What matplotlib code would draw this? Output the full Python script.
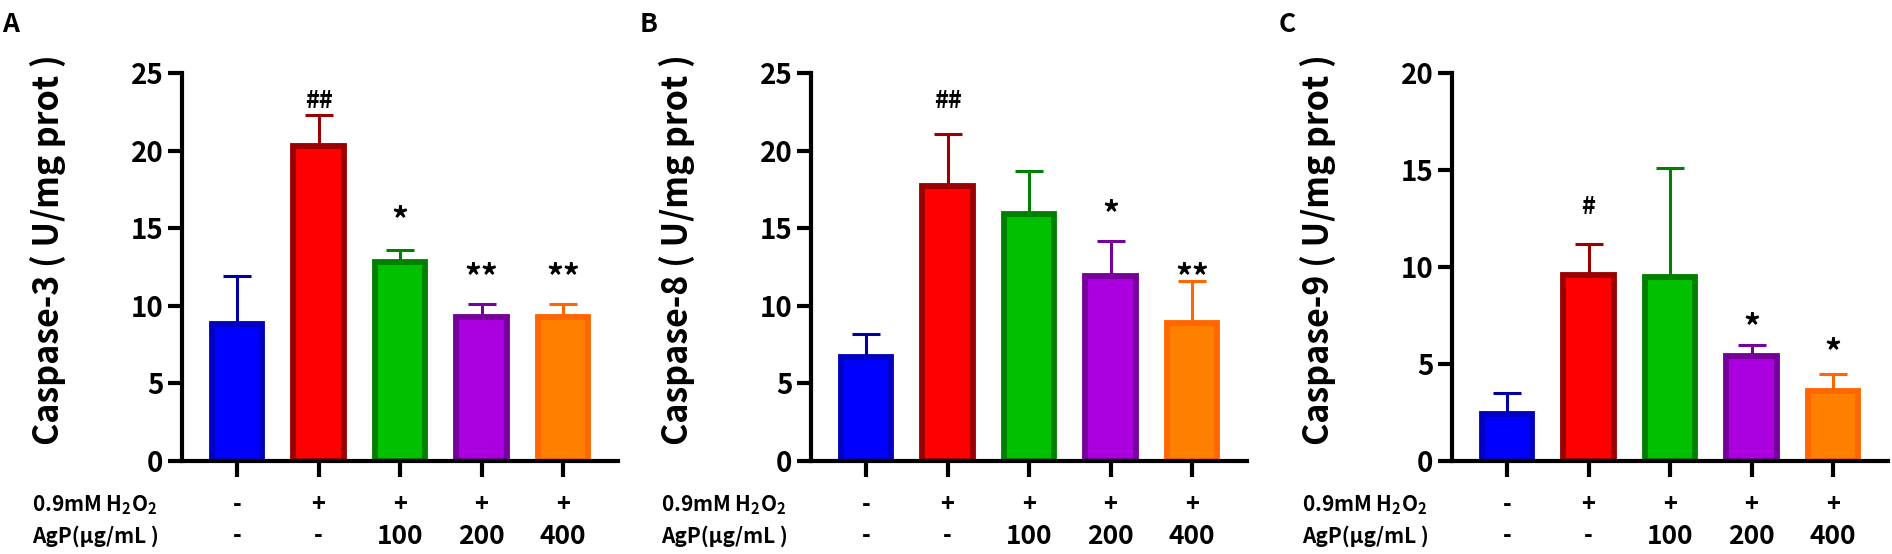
import matplotlib
matplotlib.use("Agg")
import matplotlib.pyplot as plt
from matplotlib.transforms import blended_transform_factory

plt.rcParams["font.family"] = ["Noto Sans CJK SC", "DejaVu Sans"]
plt.rcParams["font.weight"] = "bold"
plt.rcParams["mathtext.fontset"] = "custom"
plt.rcParams["mathtext.rm"] = "Noto Sans CJK SC:bold"
plt.rcParams["mathtext.bf"] = "Noto Sans CJK SC:bold"
plt.rcParams["mathtext.default"] = "rm"

# groups
h2o2_row = ["-", "+", "+", "+", "+"]
agp_row = ["-", "-", "100", "200", "400"]

# caspase activity, mean and upper SD
casp3_mean = [8.8, 20.3, 12.8, 9.3, 9.3]
casp3_err = [3.1, 2.0, 0.8, 0.8, 0.8]
casp8_mean = [6.7, 17.7, 15.9, 11.9, 8.9]
casp8_err = [1.5, 3.4, 2.8, 2.3, 2.7]
casp9_mean = [2.4, 9.6, 9.5, 5.4, 3.6]
casp9_err = [1.1, 1.6, 5.6, 0.6, 0.9]

casp3_marks = ["", "##", "*", "**", "**"]
casp8_marks = ["", "##", "", "*", "**"]
casp9_marks = ["", "#", "", "*", "*"]
casp3_mark_y = [0, 23.2, 16.4, 12.7, 12.7]
casp8_mark_y = [0, 23.2, 0, 16.8, 12.7]
casp9_mark_y = [0, 13.1, 0, 7.6, 6.3]

fill_colors = ["#0000FF", "#FF0000", "#00C000", "#AA00E0", "#FF8000"]
edge_colors = ["#0000C0", "#990000", "#007F00", "#75009A", "#FF6600"]
err_colors = ["#0000A0", "#990000", "#008000", "#75009A", "#FF6600"]

W, H = 1892, 554
fig = plt.figure(figsize=(W / 100, H / 100), dpi=100)

unit = 81.5
x0, x1 = -0.68, 4.68
ax_w = (x1 - x0) * unit / W
ax_bottom = 1 - 461 / H
ax_h = (461 - 73) / H

panels = [
    ("A", 181.6, casp3_mean, casp3_err, casp3_marks, casp3_mark_y, 25, "Caspase-3 ( U/mg prot )"),
    ("B", 810.6, casp8_mean, casp8_err, casp8_marks, casp8_mark_y, 25, "Caspase-8 ( U/mg prot )"),
    ("C", 1451.6, casp9_mean, casp9_err, casp9_marks, casp9_mark_y, 20, "Caspase-9 ( U/mg prot )"),
]
letter_x = [2, 640, 1279]

for i, (letter, left, mean, err, marks, mark_y, ymax, ylabel) in enumerate(panels):
    ax = fig.add_axes([left / W, ax_bottom, ax_w, ax_h])
    xs = list(range(len(mean)))
    ax.bar(xs, mean, width=0.62, color=fill_colors, edgecolor=edge_colors,
           linewidth=4.2, zorder=2)
    for x, m, e, c in zip(xs, mean, err, err_colors):
        ax.errorbar(x, m, yerr=[[0], [e]], fmt="none", ecolor=c, elinewidth=2.2,
                    capsize=10, capthick=2.2, zorder=1)
    for x, t, y in zip(xs, marks, mark_y):
        if t:
            star = t.startswith("*")
            shift = (0.9 if ymax == 25 else 0.7) if star else 0
            ax.text(x, y - shift, t, ha="center", va="center",
                    fontsize=24 if star else 17)

    ax.set_xlim(x0, x1)
    ax.set_ylim(0, ymax)
    ax.set_yticks(range(0, ymax + 1, 5))
    ax.set_xticks(xs)
    ax.set_xticklabels([])
    for s in ["top", "right"]:
        ax.spines[s].set_visible(False)
    for s in ["left", "bottom"]:
        ax.spines[s].set_linewidth(3)
    ax.tick_params(axis="y", length=10, width=3, pad=3, labelsize=20)
    ax.tick_params(axis="x", length=11.5, width=3)

    # row labels under the bars
    tr = blended_transform_factory(ax.transData, fig.transFigure)
    for x, a, b in zip(xs, h2o2_row, agp_row):
        ax.text(x, 1 - 505 / H, a, transform=tr, ha="center", va="center",
                fontsize=17)
        fs = 19 if b != "-" else 17
        ax.text(x, 1 - 536 / H, b, transform=tr, ha="center", va="center",
                fontsize=fs)
    fig.text((left - 150) / W, 1 - 505 / H, r"0.9mM H$_2$O$_2$", ha="left",
             va="center", fontsize=15)
    fig.text((left - 150) / W, 1 - 536 / H, "AgP(μg/mL )", ha="left",
             va="center", fontsize=15)

    fig.text((left - 134) / W, 1 - 250 / H, ylabel, rotation=90, ha="center",
             va="center", fontsize=24.5)
    fig.text(letter_x[i] / W, 1 - 24 / H, letter, ha="left", va="center",
             fontsize=19)

fig.savefig("out.png", dpi=100)
